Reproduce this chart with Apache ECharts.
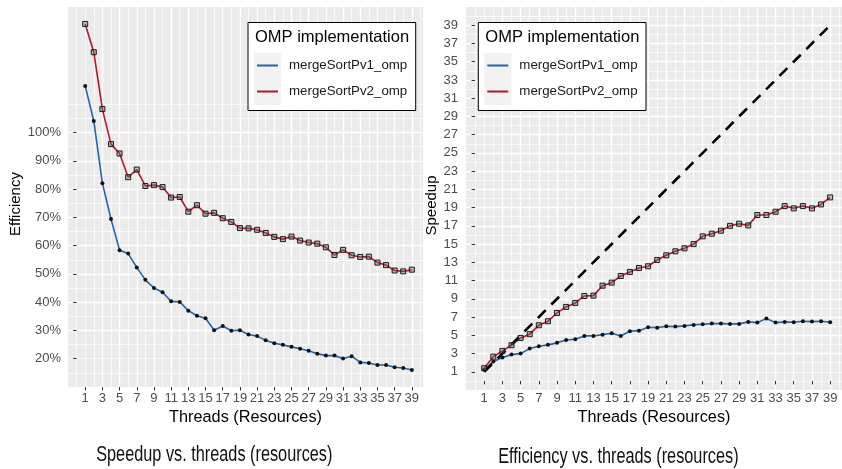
<!DOCTYPE html>
<html>
<head>
<meta charset="utf-8">
<style>
  html, body { margin: 0; padding: 0; background: #fff; }
  #chart { width: 842px; height: 469px; }
</style>
<script src="https://cdn.jsdelivr.net/npm/echarts@6/dist/echarts.min.js"></script>
</head>
<body>
<div id="chart"></div>
<script>
// data
const threads = [1, 2, 3, 4, 5, 6, 7, 8, 9, 10, 11, 12, 13, 14, 15, 16, 17, 18, 19, 20,
  21, 22, 23, 24, 25, 26, 27, 28, 29, 30, 31, 32, 33, 34, 35, 36, 37, 38, 39];
const effV1 = [116.5, 104.1, 82.1, 69.4, 58.4, 57.2, 52.3, 47.9, 45.0, 43.5, 40.3, 40.1, 37.0,
  35.2, 34.3, 30.1, 31.6, 29.9, 30.1, 28.6, 28.0, 26.5, 25.5, 24.9, 24.2, 23.5, 22.8, 21.8,
  21.1, 21.1, 20.1, 20.9, 18.7, 18.5, 17.8, 17.8, 17.0, 16.7, 16.0];
const effV2 = [138.4, 128.4, 108.3, 95.9, 92.6, 84.2, 86.9, 81.1, 81.4, 80.7, 77.0, 77.2, 72.0,
  74.3, 71.3, 71.6, 69.7, 68.4, 66.2, 66.1, 65.6, 64.5, 63.1, 62.3, 63.2, 61.8, 61.1, 60.7,
  59.4, 56.7, 58.5, 56.6, 56.0, 56.1, 54.0, 53.1, 51.2, 50.9, 51.5];
const speedupV1 = [1.21, 2.12, 2.56, 2.88, 2.99, 3.54, 3.80, 3.95, 4.17, 4.49, 4.57, 4.93, 4.93,
  5.07, 5.23, 4.93, 5.45, 5.51, 5.88, 5.84, 5.99, 5.95, 6.03, 6.14, 6.21, 6.28, 6.28, 6.25,
  6.25, 6.47, 6.39, 6.83, 6.39, 6.47, 6.43, 6.54, 6.50, 6.54, 6.43];
const speedupV2 = [1.39, 2.66, 3.29, 3.91, 4.71, 5.12, 6.10, 6.54, 7.45, 8.11, 8.55, 9.31, 9.35,
  10.44, 10.77, 11.50, 11.95, 12.38, 12.57, 13.26, 13.77, 14.21, 14.54, 15.00, 15.85, 16.14,
  16.47, 17.00, 17.23, 17.05, 18.19, 18.19, 18.55, 19.17, 18.92, 19.17, 18.92, 19.35, 20.12];
const idealThreads = [1, 39];
const idealSpeedup = [1, 39];

const threadTicks = [1, 3, 5, 7, 9, 11, 13, 15, 17, 19, 21, 23, 25, 27, 29, 31, 33, 35, 37, 39];
const effTicks = [20, 30, 40, 50, 60, 70, 80, 90, 100];
const speedupTicks = [1, 3, 5, 7, 9, 11, 13, 15, 17, 19, 21, 23, 25, 27, 29, 31, 33, 35, 37, 39];

const seriesNames = ['mergeSortPv1_omp', 'mergeSortPv2_omp'];
const legendTitle = 'OMP implementation';
const captions = ['Speedup vs. threads (resources)', 'Efficiency vs. threads (resources)'];

const FONT = 'Liberation Sans';
const BLUE = '#2166ac';
const RED = '#b2182b';
const WHITE = '#ffffff';
const NONE = 'rgba(0,0,0,0)';

// one colour per tick (echarts counts ticks from min, plus max at the end)
function gridColors(min, max, step, keep) {
  const out = [];
  let v = min;
  while (v <= max + 1e-9) {
    out.push(keep(v) ? WHITE : NONE);
    v = Math.round((v + step) * 1000) / 1000;
  }
  if (v - step < max - 1e-9) out.push(NONE);
  return out;
}

const tickLabel = { fontFamily: FONT, fontSize: 13, color: '#4d4d4d' };
const tickMark = { length: 3.5, lineStyle: { color: '#333', width: 1 } };
const axisTitle = { fontFamily: FONT, fontSize: 16.3, color: '#000' };
// y titles sit a little below the panel middle in the original
const yTitle = Object.assign({}, axisTitle, { fontSize: 15, padding: [0, 14, 0, 0] });

function xAxes(gridIndex, labelMargin, nameGap) {
  return [
    {
      gridIndex, type: 'value', min: -1, max: 40.3, interval: 2,
      name: 'Threads (Resources)', nameLocation: 'middle', nameGap,
      nameTextStyle: axisTitle,
      axisLine: { show: false },
      axisTick: Object.assign({ customValues: threadTicks }, tickMark),
      axisLabel: Object.assign({ customValues: threadTicks, margin: labelMargin }, tickLabel),
      splitLine: { show: true, lineStyle: { width: 1.4, color: gridColors(-1, 40.3, 2, v => v >= 1 && v <= 39) } }
    },
    {
      gridIndex, type: 'value', min: -1, max: 40.3, interval: 1,
      axisLine: { show: false }, axisTick: { show: false }, axisLabel: { show: false },
      splitLine: { show: true, lineStyle: { width: 0.7, color: gridColors(-1, 40.3, 1, v => v >= 0 && v <= 40) } }
    }
  ];
}

const option = {
  animation: false,
  backgroundColor: '#fff',
  grid: [
    { left: 68, top: 7, width: 355, height: 380, show: true, backgroundColor: '#ebebeb', borderWidth: 0 },
    { left: 466, top: 7, width: 376, height: 383, show: true, backgroundColor: '#ebebeb', borderWidth: 0 }
  ],
  xAxis: [].concat(xAxes(0, 5, 20), xAxes(1, 2, 17)),
  yAxis: [
    {
      gridIndex: 0, type: 'value', min: 10, max: 144.4, interval: 10,
      name: 'Efficiency', nameLocation: 'middle', nameGap: 45,
      nameTextStyle: yTitle,
      axisLine: { show: false },
      axisTick: Object.assign({ customValues: effTicks }, tickMark),
      axisLabel: Object.assign({ customValues: effTicks, margin: 7, formatter: v => v + '%' }, tickLabel),
      splitLine: { show: true, lineStyle: { width: 1.4, color: gridColors(10, 144.4, 10, v => v >= 20 && v <= 100) } }
    },
    {
      gridIndex: 0, type: 'value', min: 10, max: 144.4, interval: 5,
      axisLine: { show: false }, axisTick: { show: false }, axisLabel: { show: false },
      splitLine: { show: true, lineStyle: { width: 0.7, color: gridColors(10, 144.4, 5, v => v >= 15 && v <= 110) } }
    },
    {
      gridIndex: 1, type: 'value', min: -1, max: 41, interval: 2,
      name: 'Speedup', nameLocation: 'middle', nameGap: 25,
      nameTextStyle: yTitle,
      axisLine: { show: false },
      axisTick: Object.assign({ customValues: speedupTicks }, tickMark),
      axisLabel: Object.assign({ customValues: speedupTicks, margin: 8 }, tickLabel),
      splitLine: { show: true, lineStyle: { width: 1.4, color: gridColors(-1, 41, 2, v => v >= 1 && v <= 39) } }
    },
    {
      gridIndex: 1, type: 'value', min: -1, max: 41, interval: 1,
      axisLine: { show: false }, axisTick: { show: false }, axisLabel: { show: false },
      splitLine: { show: true, lineStyle: { width: 0.7, color: gridColors(-1, 41, 1, v => v >= 0 && v <= 40) } }
    }
  ],
  legend: [257, 487.3].map(left => ({
    left, top: 52.5, orient: 'vertical', padding: 0, itemGap: 0,
    itemWidth: 21, itemHeight: 2, selectedMode: false, z: 20,
    data: seriesNames.map((name, i) => ({
      name, icon: 'rect', itemStyle: { color: i === 0 ? BLUE : RED, borderWidth: 0 }
    })),
    textStyle: { fontFamily: FONT, fontSize: 13.3, color: '#1a1a1a', lineHeight: 26, padding: [0, 0, 0, 6] }
  })),
  graphic: [
    ...[248, 478.3].flatMap(x => [
      { type: 'rect', z: 10, shape: { x: x, y: 22.5, width: 167.7, height: 88 },
        style: { fill: '#fff', stroke: '#000', lineWidth: 1 } },
      { type: 'rect', z: 11, shape: { x: x + 6, y: 53, width: 27, height: 52 },
        style: { fill: '#f2f2f2' } },
      { type: 'text', z: 11, style: { text: legendTitle, x: x + 7, y: 37.5, fill: '#000',
        font: '16.5px "' + FONT + '"', verticalAlign: 'middle' } }
    ]),
    { type: 'text', x: 214.3, y: 455, scaleX: 0.74, z: 11,
      style: { text: captions[0], x: 0, y: 0, align: 'center', verticalAlign: 'middle',
        font: '22px "' + FONT + '"', fill: '#111' } },
    { type: 'text', x: 618.4, y: 457, scaleX: 0.74, z: 11,
      style: { text: captions[1], x: 0, y: 0, align: 'center', verticalAlign: 'middle',
        font: '22px "' + FONT + '"', fill: '#111' } }
  ],
  series: [
    {
      name: seriesNames[0], type: 'line', xAxisIndex: 0, yAxisIndex: 0,
      data: threads.map((t, i) => [t, effV1[i]]),
      lineStyle: { color: BLUE, width: 1.6 },
      symbol: 'circle', symbolSize: 4, itemStyle: { color: '#111' }
    },
    {
      name: seriesNames[1], type: 'line', xAxisIndex: 0, yAxisIndex: 0,
      data: threads.map((t, i) => [t, effV2[i]]),
      lineStyle: { color: RED, width: 1.6 },
      symbol: 'rect', symbolSize: 5,
      itemStyle: { color: 'rgba(110,110,110,0.4)', borderColor: '#1a1a1a', borderWidth: 1 }
    },
    {
      name: seriesNames[0], type: 'line', xAxisIndex: 2, yAxisIndex: 2,
      data: threads.map((t, i) => [t, speedupV1[i]]),
      lineStyle: { color: BLUE, width: 1.6 },
      symbol: 'circle', symbolSize: 4, itemStyle: { color: '#111' }
    },
    {
      name: seriesNames[1], type: 'line', xAxisIndex: 2, yAxisIndex: 2,
      data: threads.map((t, i) => [t, speedupV2[i]]),
      lineStyle: { color: RED, width: 1.6 },
      symbol: 'rect', symbolSize: 5,
      itemStyle: { color: 'rgba(110,110,110,0.4)', borderColor: '#1a1a1a', borderWidth: 1 }
    },
    {
      name: 'ideal', type: 'line', xAxisIndex: 2, yAxisIndex: 2,
      data: idealThreads.map((t, i) => [t, idealSpeedup[i]]),
      lineStyle: { color: '#000', width: 2.6, type: [11, 8] },
      symbol: 'none', silent: true
    }
  ]
};

const myChart = echarts.init(document.getElementById('chart'));
myChart.setOption(option);
</script>
</body>
</html>
